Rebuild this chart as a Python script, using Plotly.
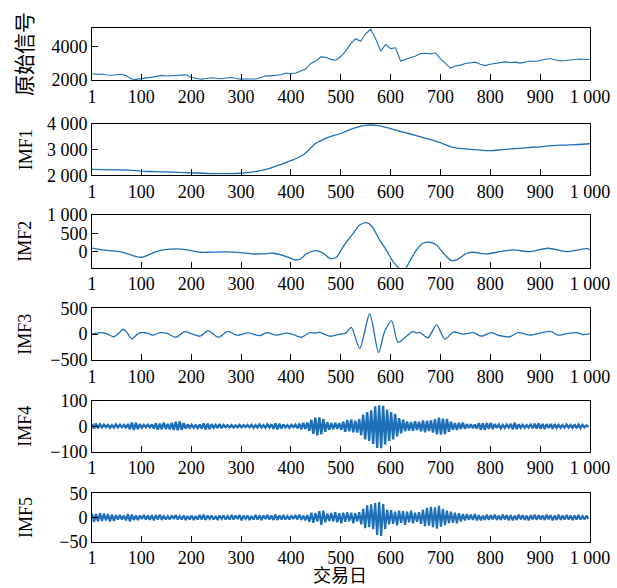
import plotly.graph_objects as go

# ---------------- data ----------------
day_ticks = [1, 100, 200, 300, 400, 500, 600, 700, 800, 900, 1000]
day_tick_text = ["1", "100", "200", "300", "400", "500", "600", "700", "800", "900", "1 000"]

orig_x = [1] + list(range(10, 1001, 10))
orig_y = [2380, 2330, 2360, 2300, 2290, 2330, 2350, 2250, 2060, 2040,
          2100, 2130, 2160, 2220, 2280, 2240, 2260, 2250, 2290, 2310,
          2150, 2080, 2050, 2090, 2140, 2110, 2080, 2120, 2150, 2090,
          2050, 2060, 2070, 2060, 2150, 2260, 2250, 2300, 2320, 2420,
          2380, 2420, 2560, 2680, 3000, 3150, 3400, 3380, 3250, 3200,
          3420, 3750, 4200, 4500, 4350, 4800, 5080, 4500, 3750, 4150,
          3900, 3950, 3150, 3250, 3330, 3450, 3600, 3620, 3580, 3650,
          3300, 3000, 2720, 2850, 2900, 3000, 3050, 3080, 2950, 2870,
          2950, 3000, 3050, 3100, 3060, 3080, 3020, 3080, 3150, 3120,
          3200, 3260, 3300, 3240, 3150, 3180, 3220, 3260, 3270, 3240, 3260]

imf1_x = [1, 25, 50, 75, 100, 125, 150, 175, 200, 225, 250, 275, 300, 325, 350,
          375, 400, 425, 450, 475, 500, 525, 550, 575, 600, 625, 650, 675, 700,
          725, 750, 775, 800, 825, 850, 875, 900, 925, 950, 975, 1000]
imf1_y = [2230, 2220, 2210, 2200, 2160, 2145, 2130, 2115, 2100, 2080, 2065, 2065,
          2080, 2135, 2230, 2390, 2570, 2800, 3250, 3480, 3630, 3830, 3950, 3940,
          3820, 3680, 3560, 3420, 3270, 3090, 3030, 2990, 2960, 3000, 3040, 3080,
          3110, 3160, 3180, 3200, 3230]

imf2_x = [1, 20, 37, 57, 75, 90, 101, 117, 130, 144, 171, 191, 218, 240, 271, 298,
          324, 344, 364, 391, 408, 418, 431, 451, 465, 478, 491, 505, 525, 538, 552,
          562, 578, 592, 605, 618, 628, 638, 652, 665, 679, 692, 706, 722, 732, 753,
          766, 793, 820, 846, 880, 916, 953, 993, 1000]
imf2_y = [93, 50, 27, 0, -70, -140, -153, -73, 0, 45, 72, 45, -18, -15, -9, -27,
          -64, -60, -45, -136, -227, -209, -64, 27, -45, -182, -155, 137, 500, 728, 792,
          700, 319, 27, -273, -455, -490, -273, 45, 228, 255, 182, -45, -245, -227, -45,
          -18, -64, 0, 45, 0, 91, 0, 82, 60]

imf3_x = [1, 17, 30, 44, 55, 64, 72, 81, 92, 100, 112, 124, 135, 150, 170, 187, 203,
          218, 234, 254, 274, 291, 314, 338, 351, 371, 391, 404, 421, 438, 450, 458,
          478, 498, 510, 521, 538, 558, 576, 588, 602, 615, 632, 645, 652, 659, 675,
          692, 709, 726, 746, 766, 782, 802, 819, 839, 856, 880, 900, 920, 936, 953,
          973, 986, 1000]
imf3_y = [0, 30, 10, -50, 20, 95, 20, -93, 0, 30, 20, -20, 25, 20, -60, 50, 0,
          -40, 70, -60, 55, -20, 25, -30, 30, -20, 20, -5, -60, 30, 20, 35,
          -40, 0, 20, 130, -275, 390, -355, 50, 255, -155, -40, 50, 25, 30, -70,
          178, -95, 40, 0, 30, -40, 30, -30, -50, 30, -20, 20, 55, -20, 10,
          30, -10, 10]

hf_x = list(range(1, 1000, 4))
imf4_y = [10, -9, 11, -8, 7, -5, 6, -4, 5, -6,
          4, -6, 7, -5, 6, -4, 5, -7, 9, -12,
          14, -15, 13, -12, 8, -6, 5, -4, 6, -5,
          7, -9, 11, -13, 10, -12, 14, -11, 9, -12,
          13, -15, 17, -16, 18, -14, 12, -9, 7, -6,
          5, -6, 4, -7, 6, -9, 11, -12, 10, -11,
          8, -6, 5, -7, 9, -8, 5, -4, 4, -5,
          4, -5, 3, -4, 5, -4, 4, -3, 5, -4,
          5, -6, 4, -5, 6, -5, 4, -6, 7, -5,
          8, -10, 11, -12, 10, -9, 7, -5, 4, -6,
          5, -4, 6, -8, 10, -12, 13, -11, 14, -18,
          25, -30, 34, -36, 35, -32, 28, -22, 16, -14,
          12, -11, 13, -10, 12, -14, 18, -22, 24, -20,
          26, -24, 22, -25, 28, -35, 45, -52, 55, -58,
          62, -70, 78, -85, 82, -86, 80, -72, 65, -58,
          55, -52, 48, -40, 32, -28, 25, -20, 18, -17,
          16, -18, 19, -15, 17, -20, 22, -24, 21, -19,
          23, -25, 28, -32, 34, -33, 30, -31, 28, -22,
          18, -14, 12, -15, 13, -11, 14, -10, 8, -7,
          7, -8, 6, -9, 12, -13, 11, -14, 12, -10,
          13, -11, 9, -7, 6, -8, 5, -7, 6, -5,
          9, -12, 13, -11, 7, -6, 5, -6, 4, -5,
          6, -8, 10, -9, 11, -10, 9, -11, 8, -7,
          9, -10, 8, -6, 5, -6, 4, -5, 6, -5,
          5, -6, 7, -8, 6, -7, 5, -4, 3, -2]
imf5_y = [8, -9, 7, -8, 9, -7, 8, -6, 7, -8,
          6, -7, 5, -4, 5, -4, 4, -6, 7, -8,
          6, -5, 4, -5, 4, -3, 5, -4, 4, -5,
          5, -6, 5, -4, 6, -5, 4, -4, 3, -4,
          4, -3, 5, -4, 3, -4, 4, -5, 3, -4,
          4, -5, 3, -4, 5, -4, 6, -5, 4, -3,
          4, -4, 3, -5, 4, -3, 4, -4, 3, -4,
          5, -4, 4, -3, 5, -6, 4, -3, 4, -5,
          3, -4, 5, -4, 4, -5, 4, -3, 5, -4,
          4, -5, 6, -5, 4, -4, 5, -4, 3, -4,
          4, -3, 5, -4, 6, -5, 4, -6, 5, -9,
          10, -11, 9, -8, 13, -15, 14, -10, 8, -7,
          9, -8, 11, -10, 9, -12, 10, -9, 11, -8,
          10, -12, 9, -8, 11, -14, 18, -22, 25, -20,
          27, -24, 30, -36, 32, -38, 28, -24, 16, -14,
          15, -13, 12, -16, 14, -11, 13, -15, 12, -10,
          14, -12, 10, -9, 11, -13, 16, -18, 20, -17,
          22, -20, 21, -23, 24, -19, 18, -16, 14, -12,
          12, -11, 10, -12, 9, -8, 7, -6, 7, -5,
          6, -5, 7, -6, 5, -6, 4, -5, 6, -5,
          5, -4, 6, -5, 4, -5, 6, -4, 5, -6,
          5, -6, 4, -5, 6, -4, 5, -5, 4, -6,
          5, -4, 6, -5, 5, -4, 4, -5, 6, -4,
          5, -6, 4, -5, 6, -5, 4, -4, 5, -4,
          4, -5, 4, -4, 5, -4, 3, -4, 4, -3]

panel_titles = ["原始信号", "IMF1", "IMF2", "IMF3", "IMF4", "IMF5"]
y_ranges = [[2000, 5150], [2000, 4000], [-440, 1000], [-500, 500], [-100, 100], [-50, 50]]
y_ticks = [[2000, 4000], [2000, 3000, 4000], [0, 500, 1000], [-500, 0, 500], [-100, 0, 100], [-50, 0, 50]]
y_tick_text = [["2000", "4000"], ["2 000", "3 000", "4 000"], ["0", "500", "1 000"],
               ["\u2212500", "0", "500"], ["\u2212100", "0", "100"], ["\u221250", "0", "50"]]
x_title = "交易日"

# ---------------- figure ----------------
W, H = 617, 588
BLUE = "#1f6fb6"
SERIF = "Liberation Serif, Times New Roman, serif"
CJK = "Noto Sans CJK SC, sans-serif"
TICK_SIZE = 18


def px_x(p):
    return p / W


def px_y(p):
    return 1 - p / H


panels_px = [(28, 80), (124, 175.3), (215, 267.7), (308.3, 360), (400.7, 451.7), (493.3, 541.7)]
x_dom = [px_x(92), px_x(590)]

series = [
    (orig_x, orig_y, "linear", 1.1),
    (imf1_x, imf1_y, "spline", 1.3),
    (imf2_x, imf2_y, "spline", 1.3),
    (imf3_x, imf3_y, "spline", 1.3),
    (hf_x, imf4_y, "linear", 2.4),
    (hf_x, imf5_y, "linear", 2.2),
]

fig = go.Figure()
layout = dict(
    width=W, height=H,
    margin=dict(l=0, r=0, t=0, b=0, autoexpand=False),
    paper_bgcolor="white", plot_bgcolor="white",
    showlegend=False,
    font=dict(family=SERIF, size=TICK_SIZE, color="black"),
)
annotations = []
for i, (xs, ys, shape, lw) in enumerate(series):
    n = "" if i == 0 else str(i + 1)
    fig.add_trace(go.Scatter(x=xs, y=ys, mode="lines",
                             line=dict(color=BLUE, width=lw, shape=shape, smoothing=0.8),
                             xaxis="x" + n, yaxis="y" + n, hoverinfo="skip"))
    top, bot = panels_px[i]
    ydom = [px_y(bot), px_y(top)]
    common = dict(
        ticks="inside", ticklen=6, tickcolor="black", tickwidth=1,
        showline=True, linecolor="black", linewidth=1, mirror=True,
        showgrid=False, zeroline=False, automargin=False,
        ticklabeloverflow="allow",
        tickfont=dict(family=SERIF, size=TICK_SIZE, color="black"),
    )
    layout["xaxis" + n] = dict(domain=x_dom, anchor="y" + n, range=[1, 1000],
                               tickvals=day_ticks, ticktext=day_tick_text, **common)
    layout["yaxis" + n] = dict(domain=ydom, anchor="x" + n, range=y_ranges[i],
                               tickvals=y_ticks[i], ticktext=y_tick_text[i], **common)
    is_cjk = i == 0
    annotations.append(dict(
        text=panel_titles[i], xref="paper", yref="paper",
        x=px_x(23 if is_cjk else 25.5), y=px_y((top + bot) / 2),
        xanchor="center", yanchor="middle", textangle=-90, showarrow=False,
        font=dict(family=CJK if is_cjk else SERIF, size=21 if is_cjk else 18, color="black"),
    ))

annotations.append(dict(
    text=x_title, xref="paper", yref="paper", x=px_x(340), y=0,
    xanchor="center", yanchor="bottom", showarrow=False, borderpad=0,
    font=dict(family=CJK, size=18, color="black"),
))
layout["annotations"] = annotations
fig.update_layout(**layout)

# remove the default page margin so the figure fills the 617x588 window exactly
fig.write_html("out.html", config={"displayModeBar": False},
               post_script="document.body.style.margin='0px';document.body.style.overflow='hidden';")
